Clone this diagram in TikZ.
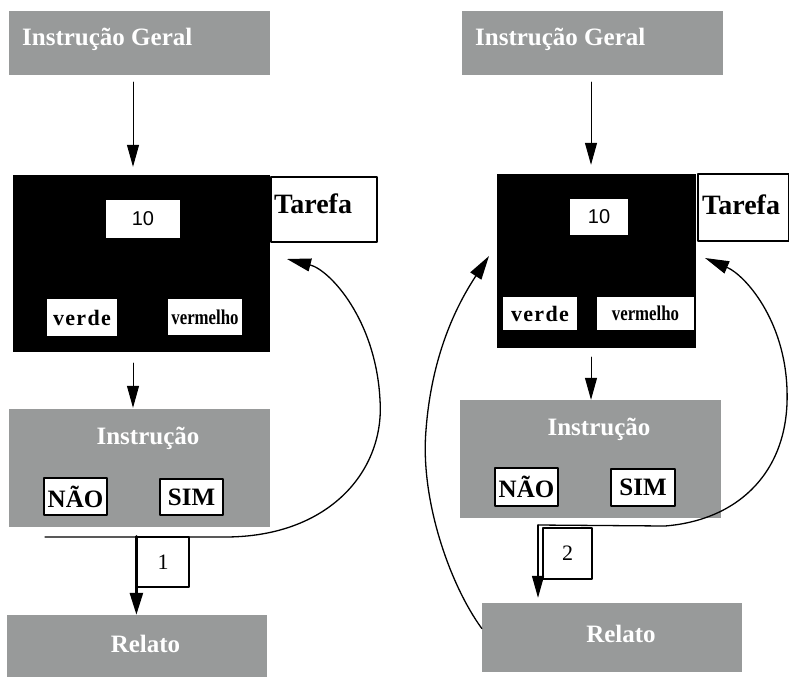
\documentclass[tikz,border=0pt]{standalone}
\usepackage{fontspec}
\setmainfont{Liberation Serif}
\newfontfamily\numfont{Liberation Sans}
\newfontfamily\condfont[FakeStretch=0.8]{Liberation Serif}
\newfontfamily\widefont[LetterSpace=6]{Liberation Serif}
\usetikzlibrary{arrows.meta}
\definecolor{boxgray}{RGB}{152,154,154}
\begin{document}
\begin{tikzpicture}[x=1pt,y=-1pt,line cap=round,line join=round,>={Triangle[length=22pt,width=12pt]}]
	\tikzset{panel/.style={rectangle,inner sep=0pt,fill=boxgray},
		dark/.style={rectangle,inner sep=0pt,fill=black},
		card/.style={rectangle,inner sep=0pt,fill=white,draw=black,line width=1.4pt},
		plain/.style={rectangle,inner sep=0pt,fill=white},
		big/.style={font=\fontsize{25}{30}\selectfont\bfseries},
		head/.style={big,text=white,inner sep=0pt},
		tarefa/.style={font=\fontsize{28}{33}\selectfont\bfseries,anchor=base west,inner sep=0pt},
		choice/.style={card,line width=2pt,big},
		link/.style={line width=1pt,->},
		loop/.style={line width=1.3pt,-{Triangle[length=24pt,width=13pt]}}}
	\useasboundingbox[fill=white] (0,0) rectangle (789,678);
	% left panel
	\node[panel,minimum width=261,minimum height=64] (geral1) at (139.5,43) {};
	\node[head,anchor=base west] (geral1t) at (22,45) {Instrução Geral};
	\node[dark,minimum width=257,minimum height=177] (tela1) at (141.5,263.5) {};
	\node[card,minimum width=106,minimum height=65] (tarefa1) at (324,209.5) {};
	\node[tarefa] (tarefa1t) at (274,213) {Tarefa};
	\node[plain,minimum width=74,minimum height=38,font=\numfont\fontsize{20}{24}\selectfont] (dez1) at (143,219) {10};
	\node[plain,minimum width=70,minimum height=37,font=\widefont\fontsize{22}{26}\selectfont\bfseries] (verde1) at (82,317.5) {verde};
	\node[plain,minimum width=74,minimum height=36,font=\condfont\fontsize{21}{25}\selectfont\bfseries] (verm1) at (205,317) {vermelho};
	\node[panel,minimum width=261,minimum height=118] (instr1) at (139.5,468) {};
	\node[head,anchor=base] (instr1t) at (148,444) {Instrução};
	\node[choice,minimum width=63,minimum height=37] (nao1) at (75.5,496.5) {NÃO};
	\node[choice,minimum width=63,minimum height=36] (sim1) at (191.5,497) {SIM};
	\node[card,line width=1.2pt,minimum width=52,minimum height=50,font=\fontsize{22}{26}\selectfont] (um) at (163,562) {1};
	\node[panel,minimum width=260,minimum height=62] (relato1) at (137,646) {};
	\node[head,anchor=base] (relato1t) at (145.5,652) {Relato};
	\draw[link,shorten <=7,shorten >=8] ([xshift=-6.5]geral1.south) -- ([xshift=-6.5]geral1.south |- tela1.north);
	\draw[link,shorten <=11,shorten >=1] ([xshift=-8.5]tela1.south) -- ([xshift=-8.5]tela1.south |- instr1.north);
	\draw[line width=2.6pt,-{Triangle[length=22pt,width=13pt]}] (um.north west) -- (um.north west |- relato1.north);
	\path (45,537) coordinate (l1) (225,537) coordinate (c1) (287,259) coordinate (T1);
	\draw[loop] (l1) -- (c1) .. controls (330,537) and (385,470) .. (380,400) .. controls (376,320) and (330,270) .. (T1);
	% right panel
	\node[panel,minimum width=261,minimum height=64] (geral2) at (592.5,43) {};
	\node[head,anchor=base west] (geral2t) at (475,45) {Instrução Geral};
	\node[dark,minimum width=199,minimum height=174] (tela2) at (596.5,261) {};
	\node[card,minimum width=91,minimum height=67] (tarefa2) at (743.5,207.5) {};
	\node[tarefa] (tarefa2t) at (702,214) {Tarefa};
	\node[plain,minimum width=58,minimum height=36,font=\numfont\fontsize{20}{24}\selectfont] (dez2) at (599,217) {10};
	\node[plain,minimum width=74,minimum height=33,font=\widefont\fontsize{22}{26}\selectfont\bfseries] (verde2) at (540,313.5) {verde};
	\node[plain,minimum width=97,minimum height=33,font=\condfont\fontsize{21}{25}\selectfont\bfseries] (verm2) at (645.5,313.5) {vermelho};
	\node[panel,minimum width=261,minimum height=118] (instr2) at (590.5,459) {};
	\node[head,anchor=base] (instr2t) at (599,435) {Instrução};
	\node[choice,minimum width=63,minimum height=38] (nao2) at (526.5,487) {NÃO};
	\node[choice,minimum width=64,minimum height=37] (sim2) at (643,487.5) {SIM};
	\node[card,line width=1.2pt,minimum width=49,minimum height=51,font=\fontsize{22}{26}\selectfont] (dois) at (567.5,553.5) {2};
	\node[panel,minimum width=260,minimum height=69] (relato2) at (612,637.5) {};
	\node[head,anchor=base] (relato2t) at (621,642) {Relato};
	\draw[link,shorten <=7,shorten >=9] ([xshift=-1.5]geral2.south) -- ([xshift=-1.5]geral2.south |- tela2.north);
	\draw[link,shorten <=9,shorten >=0] ([xshift=-5.5]tela2.south) -- ([xshift=-5.5]tela2.south |- instr2.north);
	\path (538,525) coordinate (l2) (665,526) coordinate (c2) (705,258) coordinate (T2) (489,256) coordinate (T3);
	\draw[line width=1.2pt,->,shorten >=5] (l2) -- (l2 |- relato2.north);
	\draw[loop] (l2) -- (c2) .. controls (740,520) and (790,470) .. (787,390) .. controls (785,320) and (745,275) .. (T2);
	\draw[loop] ([yshift=9]relato2.west) .. controls (450,585) and (420,500) .. (426,430) .. controls (432,350) and (460,300) .. (T3);
\end{tikzpicture}
\end{document}
